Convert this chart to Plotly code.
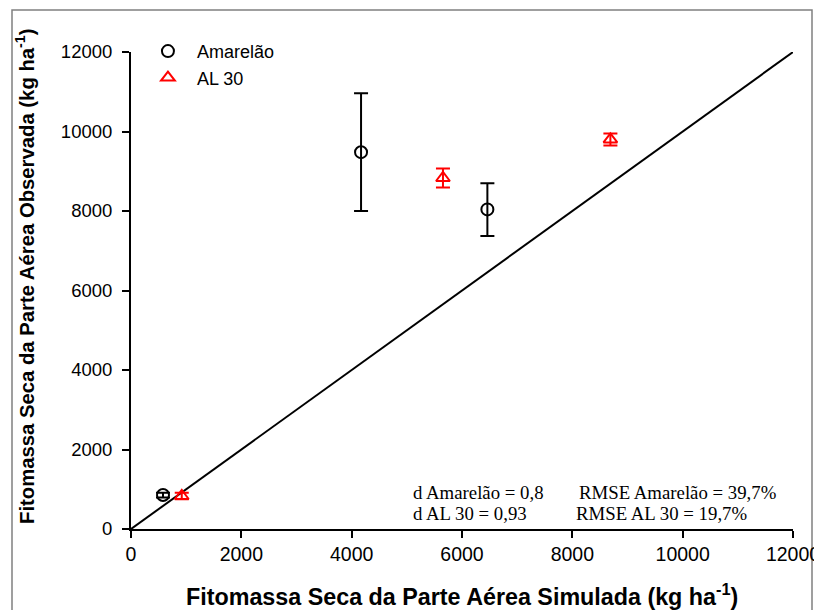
import plotly.graph_objects as go

# Data
amarelao_sim = [580, 4170, 6460]
amarelao_obs = [855, 9480, 8040]
amarelao_err_plus = [60, 1480, 660]
amarelao_err_minus = [60, 1480, 670]

al30_sim = [920, 5655, 8690]
al30_obs = [830, 8830, 9800]
al30_err_plus = [80, 240, 150]
al30_err_minus = [80, 240, 150]

line_x = [0, 12000]
line_y = [0, 12000]

tick_vals = [0, 2000, 4000, 6000, 8000, 10000, 12000]
tick_text = ["0", "2000", "4000", "6000", "8000", "10000", "12000"]

stats_left = ["d Amarelão = 0,8", "d AL 30 = 0,93"]
stats_right = ["RMSE Amarelão = 39,7%", "RMSE AL 30 = 19,7%"]

FONT = "Liberation Sans, Arial, sans-serif"
SERIF = "Liberation Serif, Times New Roman, serif"

fig = go.Figure()

fig.add_trace(go.Scatter(
    x=line_x, y=line_y, mode="lines",
    line=dict(color="black", width=2), showlegend=False, hoverinfo="skip"))

fig.add_trace(go.Scatter(
    x=amarelao_sim, y=amarelao_obs, mode="markers", name="Amarelão",
    marker=dict(symbol="circle-open", size=12, color="black", line=dict(width=2)),
    error_y=dict(type="data", array=amarelao_err_plus, arrayminus=amarelao_err_minus,
                 color="black", thickness=2, width=7)))

fig.add_trace(go.Scatter(
    x=al30_sim, y=al30_obs, mode="markers", name="AL 30",
    marker=dict(symbol="triangle-up-open", size=12, color="red", line=dict(width=2)),
    error_y=dict(type="data", array=al30_err_plus, arrayminus=al30_err_minus,
                 color="red", thickness=2, width=7)))

axis_common = dict(
    range=[0, 12000], tickvals=tick_vals, ticktext=tick_text,
    showgrid=False, zeroline=False, showline=True, linecolor="black", linewidth=2,
    ticks="outside", ticklen=7, tickwidth=1.5, tickcolor="black",
    ticklabeloverflow="allow", automargin=False,
)

fig.update_layout(
    width=814, height=610,
    margin=dict(l=131, r=21, t=52, b=81, autoexpand=False),
    paper_bgcolor="white", plot_bgcolor="white",
    xaxis=dict(**axis_common, tickfont=dict(family=FONT, size=19.5, color="black")),
    yaxis=dict(**axis_common, tickfont=dict(family=FONT, size=18.5, color="black"),
               ticklabelstandoff=6),
    legend=dict(x=0.012, y=1.04, xanchor="left", yanchor="top",
                bgcolor="rgba(0,0,0,0)", font=dict(family=FONT, size=18, color="black"),
                itemwidth=48, tracegroupgap=0),
    showlegend=True,
)

annotations = [
    dict(text="<b>Fitomassa Seca da Parte Aérea Simulada (kg ha<sup>-1</sup>)</b>",
         xref="paper", yref="paper", x=0.5, y=(529 - 595) / 477, xanchor="center", yanchor="middle",
         showarrow=False, font=dict(family=FONT, size=23.3, color="black")),
    dict(text="<b>Fitomassa Seca da Parte Aérea Observada (kg ha<sup>-1</sup>)</b>",
         xref="paper", yref="paper", x=(25 - 131) / 662, y=(529 - 277) / 477,
         xanchor="center", yanchor="middle",
         textangle=-90, showarrow=False, font=dict(family=FONT, size=20.3, color="black")),
]

for i, (l, r) in enumerate(zip(stats_left, stats_right)):
    ypx = 492 + i * 21
    yp = (529 - ypx) / 477
    annotations.append(dict(text=l, xref="paper", yref="paper",
                            x=(411 - 131) / 662, y=yp, xanchor="left", yanchor="middle",
                            showarrow=False, font=dict(family=SERIF, size=18.8, color="black")))
    annotations.append(dict(text=r, xref="paper", yref="paper",
                            x=((577 if i == 0 else 574) - 131) / 662, y=yp,
                            xanchor="left", yanchor="middle",
                            showarrow=False, font=dict(family=SERIF, size=18.8, color="black")))

fig.update_layout(annotations=annotations)

# Outer frame
fig.add_shape(type="rect", xref="paper", yref="paper",
              x0=(12 - 131) / 662, x1=(812 - 131) / 662,
              y0=(529 - 640) / 477, y1=(529 - 10) / 477,
              line=dict(color="#808080", width=1.5), layer="below")

fig.write_html("out.html")
